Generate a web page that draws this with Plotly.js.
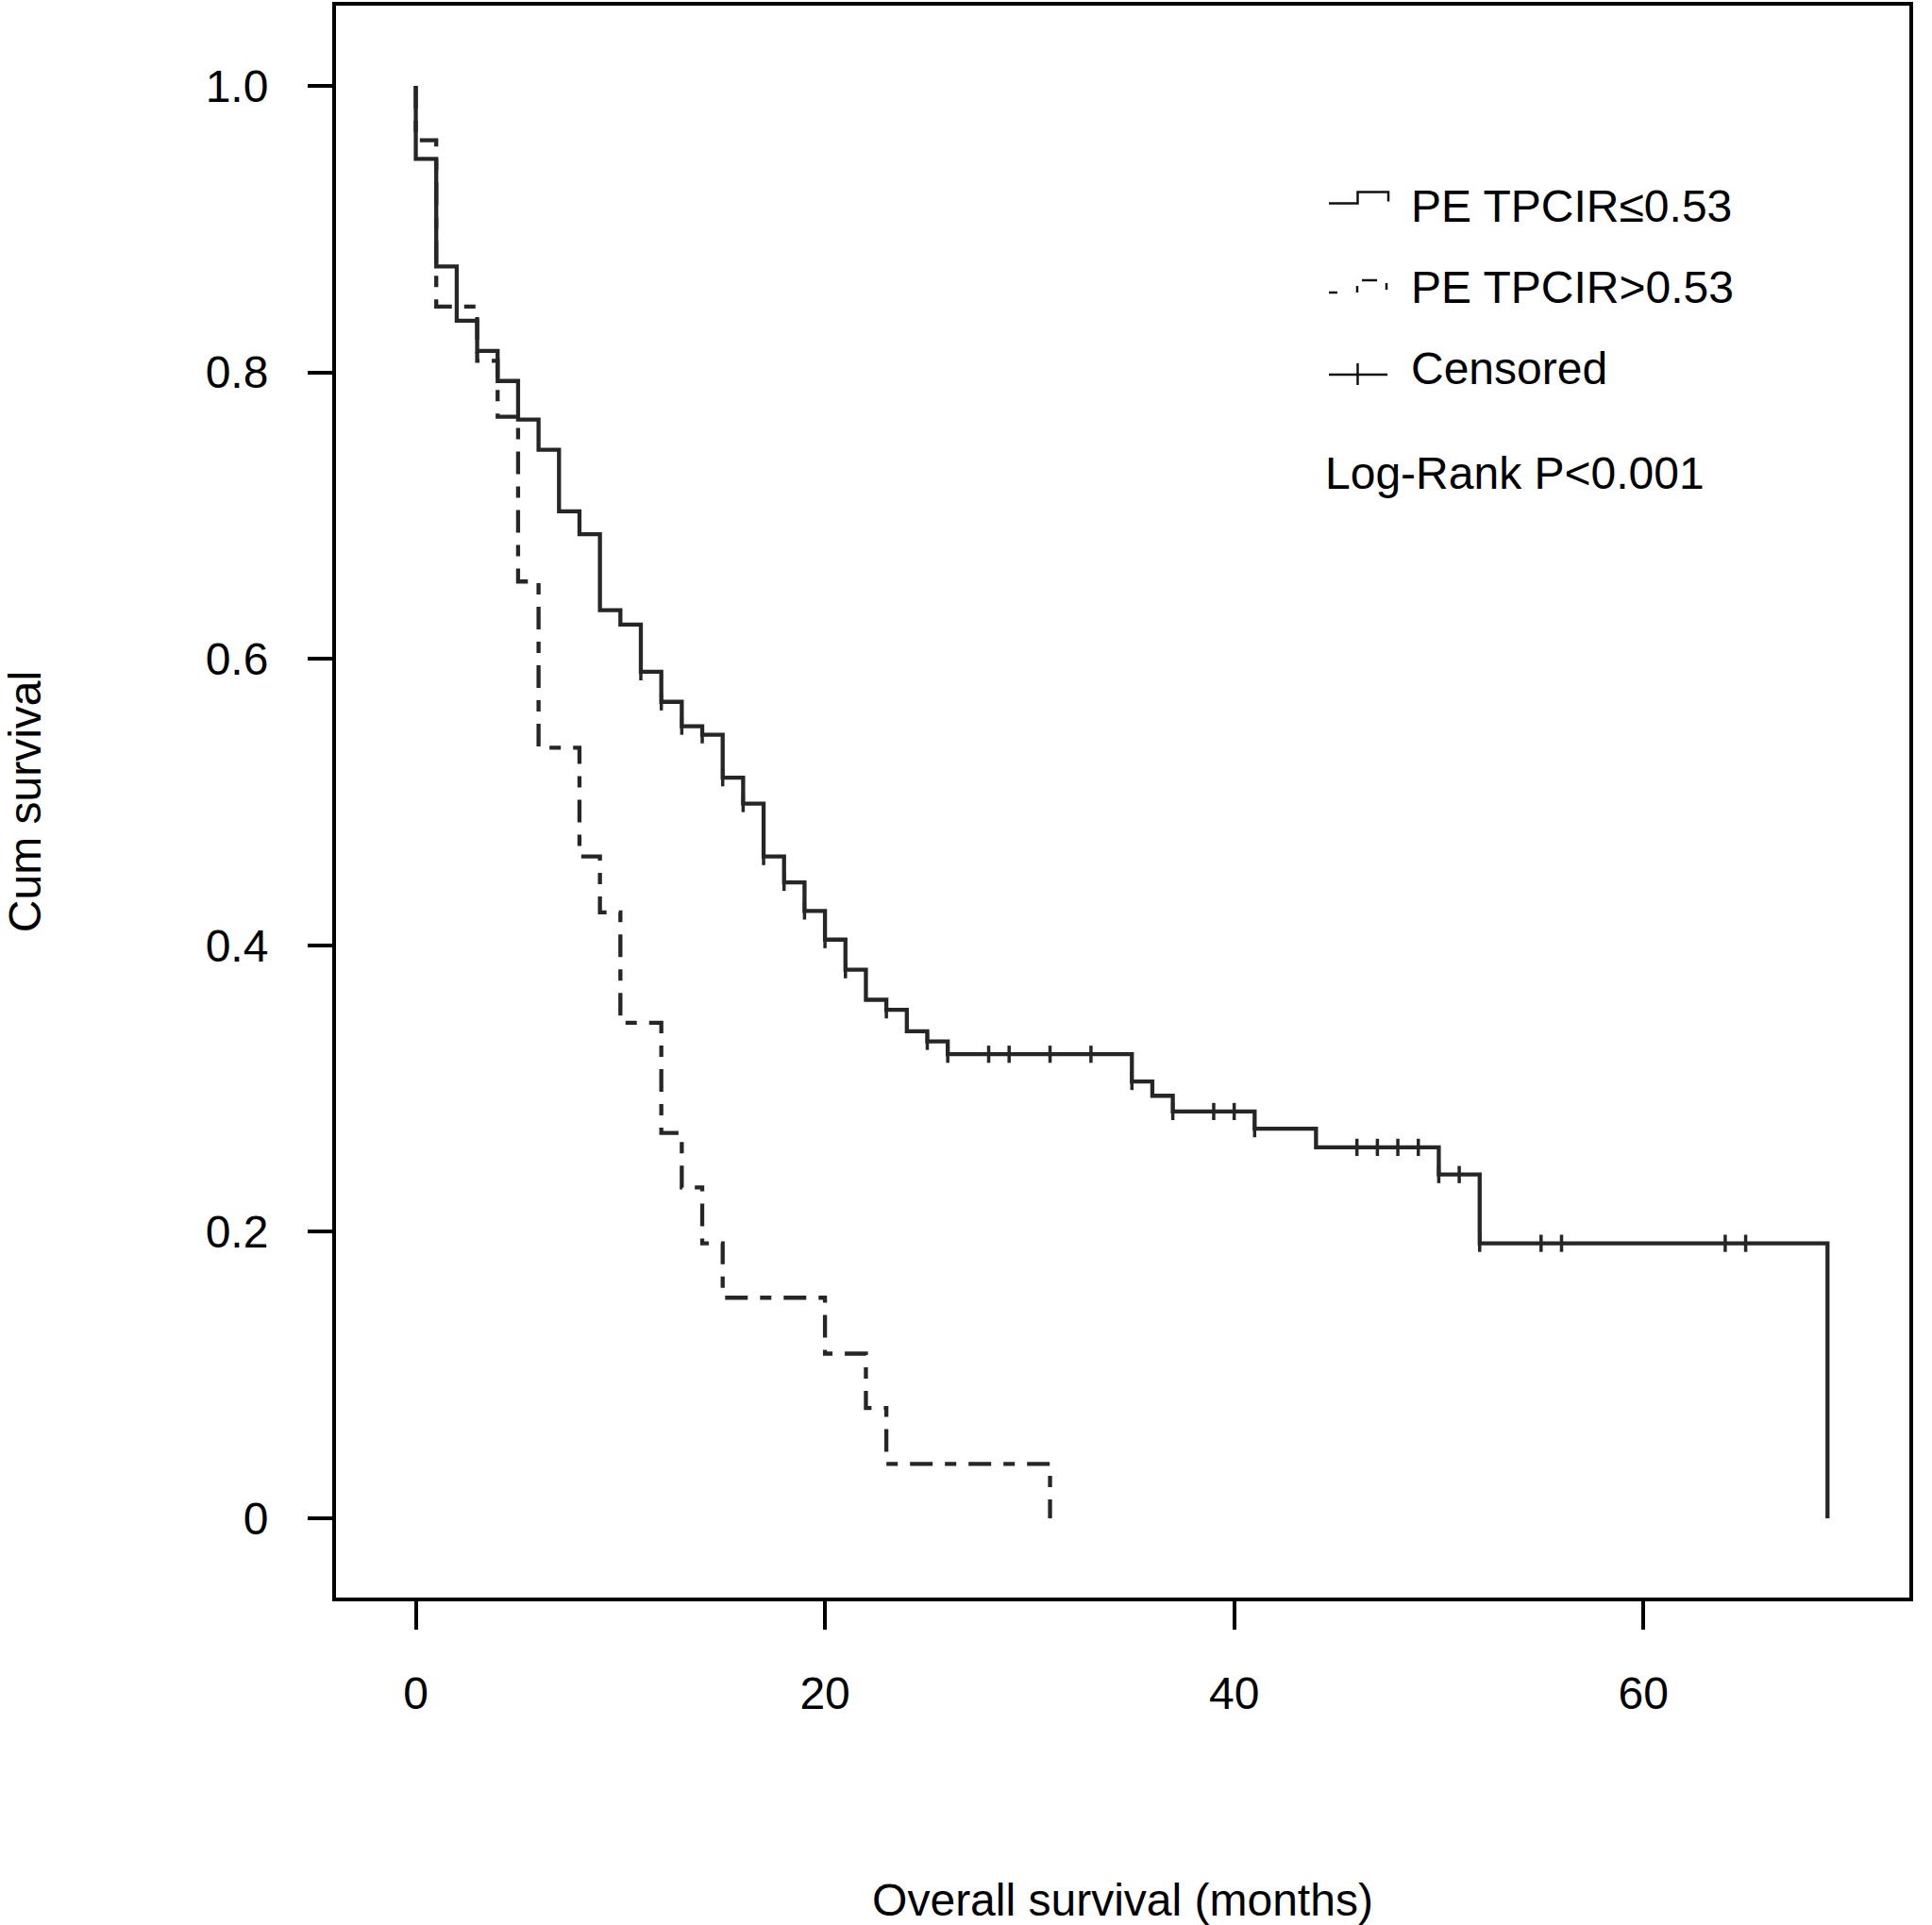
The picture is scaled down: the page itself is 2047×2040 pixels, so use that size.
<!DOCTYPE html>
<html>
<head>
<meta charset="utf-8">
<script src="https://cdn.plot.ly/plotly-3.0.1.min.js"></script>
<style>html,body{margin:0;padding:0;background:#fff;}#chart{width:2047px;height:2040px;}</style>
</head>
<body>
<div id="chart"></div>
<script>
// ---- data (months, cumulative survival) ----
var lowTime = [0, 0, 1, 2, 3, 4, 5, 6, 7, 8, 9, 10, 11, 12, 13, 14, 15, 16, 17, 18, 19, 20, 21, 22, 23, 24, 25, 26, 35, 36, 37, 41, 44, 50, 52, 69];
var lowSurv = [1, 0.949, 0.874, 0.836, 0.815, 0.794, 0.767, 0.746, 0.703, 0.687, 0.634, 0.624, 0.591, 0.570, 0.553, 0.547, 0.517, 0.499, 0.462, 0.444, 0.424, 0.404, 0.383, 0.362, 0.355, 0.340, 0.333, 0.324, 0.305, 0.295, 0.284, 0.272, 0.259, 0.240, 0.192, 0];
var lowCensorTime = [11, 12, 13, 14, 15, 16, 17, 18, 19, 20, 21, 23, 25, 26, 28, 29, 31, 33, 35, 37, 39, 40, 41, 46, 47, 48, 49, 50, 51, 52, 55, 56, 64, 65];

var highTime = [0, 0, 1, 3, 4, 5, 6, 8, 9, 10, 12, 13, 14, 15, 20, 22, 23, 31];
var highSurv = [1, 0.962, 0.846, 0.808, 0.769, 0.654, 0.538, 0.462, 0.423, 0.346, 0.269, 0.231, 0.192, 0.154, 0.115, 0.077, 0.038, 0];

var xTicks = [0, 20, 40, 60];
var yTicks = [0, 0.2, 0.4, 0.6, 0.8, 1.0];
var yTickText = ['0', '0.2', '0.4', '0.6', '0.8', '1.0'];

var seriesNames = ['PE TPCIR≤0.53', 'PE TPCIR>0.53', 'Censored'];
var pValueText = 'Log-Rank P<0.001';
var xTitle = 'Overall survival (months)';
var yTitle = 'Cum survival';

// survival value of the step curve at time t (value after any event at t)
function survAt(times, surv, t) {
  var v = surv[0];
  for (var i = 0; i < times.length; i++) { if (times[i] <= t) v = surv[i]; }
  return v;
}
var lowCensorSurv = lowCensorTime.map(function (t) { return survAt(lowTime, lowSurv, t); });

var FONT = 'Liberation Sans, Arial, sans-serif';
var LINE = '#262626';

var traces = [
  { type: 'scatter', mode: 'lines', x: lowTime, y: lowSurv, name: seriesNames[0],
    line: { shape: 'hv', color: LINE, width: 4.3 }, showlegend: false, hoverinfo: 'skip' },
  { type: 'scatter', mode: 'lines', x: highTime, y: highSurv, name: seriesNames[1],
    line: { shape: 'hv', color: LINE, width: 4.3, dash: '24px,13px,12px,13px' }, showlegend: false, hoverinfo: 'skip' },
  { type: 'scatter', mode: 'markers', x: lowCensorTime, y: lowCensorSurv, name: seriesNames[2],
    marker: { symbol: 'line-ns', size: 13, line: { color: LINE, width: 3.5 } }, showlegend: false, hoverinfo: 'skip' }
];

// plot area in page pixels (for placing the hand-drawn key in paper units)
var L = 356, R = 2023, T = 6, B = 1693;
function px(X) { return (X - L) / (R - L); }
function py(Y) { return (B - Y) / (B - T); }
function seg(x0, y0, x1, y1) {
  return { type: 'line', xref: 'paper', yref: 'paper', x0: px(x0), y0: py(y0), x1: px(x1), y1: py(y1),
           line: { color: '#111', width: 2.5 } };
}

var shapes = [
  // solid series key (step)
  { type: 'path', xref: 'paper', yref: 'paper',
    path: 'M' + px(1408) + ',' + py(215.5) + ' L' + px(1438.5) + ',' + py(215.5) + ' L' + px(1438.5) + ',' + py(203.5) +
          ' L' + px(1471) + ',' + py(203.5) + ' L' + px(1471) + ',' + py(213.5),
    line: { color: '#111', width: 2.5 } },
  // dashed series key
  seg(1408, 310, 1417, 310), seg(1438, 303, 1438, 310), seg(1443, 297, 1459, 297), seg(1469, 300, 1469, 307),
  // censored key
  seg(1408, 397, 1470, 397), seg(1438.5, 385, 1438.5, 408)
];

function label(text, X, Y) {
  return { text: text, xref: 'paper', yref: 'paper', x: px(X), y: py(Y), xanchor: 'left', yanchor: 'middle',
           showarrow: false, font: { family: FONT, size: 48, color: '#000' } };
}
var annotations = [
  label(seriesNames[0], 1493, 218.5),
  label(seriesNames[1], 1493, 304.5),
  label(seriesNames[2], 1493, 391),
  label(pValueText, 1402, 502)
];

var layout = {
  width: 2047, height: 2040,
  margin: { l: L, r: 2047 - R, t: T, b: 2040 - B, pad: 0 },
  paper_bgcolor: '#fff', plot_bgcolor: '#fff',
  showlegend: false,
  font: { family: FONT, size: 48, color: '#000' },
  xaxis: {
    range: [-3.9, 73], tickvals: xTicks, ticktext: xTicks.map(String),
    ticks: 'outside', ticklen: 30, tickwidth: 4, tickcolor: '#000',
    showline: true, mirror: true, linewidth: 4, linecolor: '#000',
    showgrid: false, zeroline: false, ticklabelstandoff: 26,
    tickfont: { family: FONT, size: 48, color: '#000' },
    title: { text: xTitle, font: { family: FONT, size: 48, color: '#000' }, standoff: 182 }
  },
  yaxis: {
    range: [-0.0553, 1.056], tickvals: yTicks, ticktext: yTickText,
    ticks: 'outside', ticklen: 26, tickwidth: 4, tickcolor: '#000',
    showline: true, mirror: true, linewidth: 4, linecolor: '#000',
    showgrid: false, zeroline: false, ticklabelstandoff: 32,
    tickfont: { family: FONT, size: 48, color: '#000' },
    title: { text: yTitle, font: { family: FONT, size: 48, color: '#000' }, standoff: 182 }
  },
  shapes: shapes,
  annotations: annotations
};

Plotly.newPlot('chart', traces, layout, { staticPlot: true, displayModeBar: false });
</script>
</body>
</html>
